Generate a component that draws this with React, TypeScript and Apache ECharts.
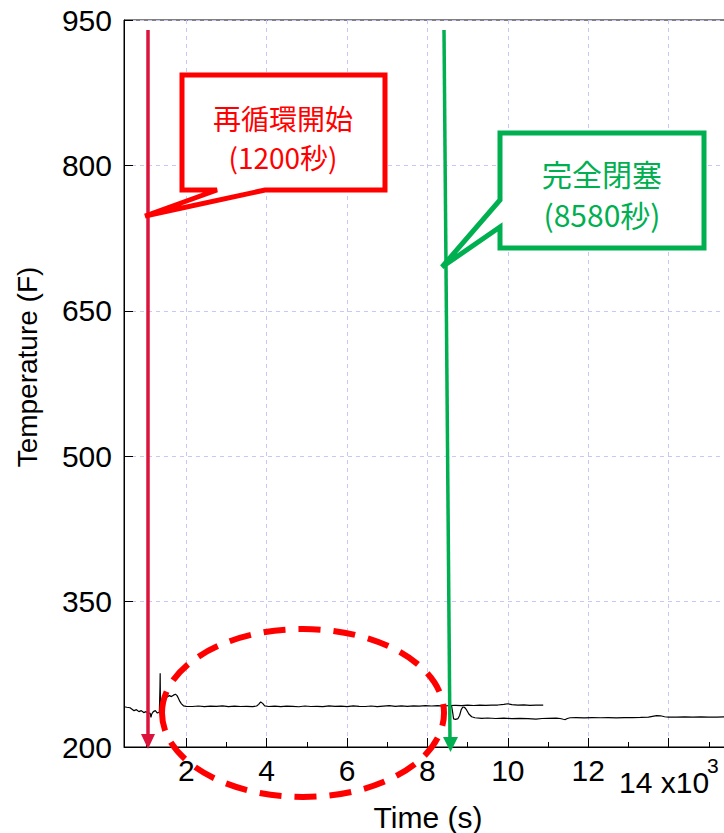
import React, { useEffect, useRef } from 'react';
import * as echarts from 'echarts';

const FONT = '"Liberation Sans", Arial, sans-serif';
const CJK = '"Noto Sans CJK JP", "Noto Sans", sans-serif';

// Axis ticks (seconds / °F)
const xMajorTicks = [2000, 4000, 6000, 8000, 10000, 12000, 14000];
const xLabelValues = [2000, 4000, 6000, 8000, 10000, 12000];
const xMinorTicks = [1000, 3000, 5000, 7000, 9000, 11000, 13000, 15000];
const yTicks = [200, 350, 500, 650, 800, 950];

// Series 1: temperature before / after recirculation start [time s, temp F]
const series1: [number, number][] = [
  [450, 241.5], [520, 241], [600, 240.5], [650, 239], [700, 237.5], [760, 238.5],
  [820, 236.5], [880, 237.5], [940, 235.5], [1000, 236.5], [1050, 234.5], [1100, 235],
  [1120, 230.5], [1140, 234], [1180, 236.5], [1230, 237.5], [1280, 235], [1330, 236],
  [1345, 262], [1350, 276], [1356, 246], [1362, 235], [1400, 234.5], [1430, 240],
  [1460, 246.5], [1490, 250], [1530, 252], [1580, 253], [1630, 252], [1680, 253.5],
  [1730, 254.5], [1770, 253], [1800, 250.5], [1840, 247], [1880, 244.5], [1930, 242.5],
  [2000, 242], [2150, 241.8], [2300, 242.3], [2450, 241.6], [2600, 242.1], [2750, 241.9],
  [2900, 242.4], [3050, 241.7], [3200, 242.2], [3350, 241.8], [3500, 242], [3650, 241.6],
  [3750, 242.3], [3800, 244], [3850, 246.5], [3900, 245], [3950, 242.5], [4050, 241.8],
  [4200, 242.1], [4350, 241.6], [4500, 242.2], [4650, 241.9], [4800, 241.5], [4950, 242.3],
  [5100, 241.8], [5250, 242], [5400, 241.6], [5550, 242.4], [5700, 241.9], [5850, 242.1],
  [6000, 241.7], [6150, 242.5], [6300, 242], [6450, 241.8], [6600, 242.3], [6750, 241.7],
  [6900, 242.2], [7050, 242.6], [7200, 242], [7350, 242.4], [7500, 241.9], [7650, 242.5],
  [7800, 242.1], [7950, 242.7], [8100, 242.3], [8250, 242.6], [8400, 242.2], [8550, 242.8],
  [8700, 243], [8850, 242.7], [9000, 243.1], [9150, 242.8], [9300, 243.2], [9450, 242.9],
  [9600, 243.1], [9750, 243.3], [9900, 244], [10000, 244.6], [10100, 243.8], [10250, 243.2],
  [10400, 243.4], [10550, 243], [10700, 243.2], [10880, 243.1],
];

// Series 2: temperature after full closure
const series2: [number, number][] = [
  [8600, 242.5], [8630, 235], [8650, 229], [8700, 228.5], [8760, 229.3], [8800, 232.5],
  [8840, 238.5], [8880, 241.3], [8920, 241], [8970, 238.5], [9030, 234], [9100, 231.2],
  [9180, 230.2], [9350, 229.6], [9500, 229.9], [9700, 229.4], [9900, 229.7], [10100, 229.3],
  [10300, 229.6], [10500, 229.2], [10700, 228.8], [10850, 229.4], [11000, 229.6], [11200, 229.8],
  [11300, 229.4], [11380, 228.6], [11430, 228.3], [11480, 229.4], [11550, 230.2], [11700, 230.3],
  [11900, 230.1], [12100, 230.4], [12300, 230.2], [12500, 230.3], [12700, 230.1], [12900, 230.4],
  [13100, 230.3], [13300, 230.5], [13500, 230.8], [13600, 231.6], [13700, 232.4], [13800, 232.2],
  [13900, 231.2], [14000, 230.9], [14200, 230.8], [14400, 231], [14600, 230.9], [14800, 231],
  [15000, 230.8], [15200, 230.9], [15400, 231], [15700, 230.9], [16000, 231],
];

const yTitle = 'Temperature (F)';
const xTitle = 'Time (s)';
const redLabel = ['再循環開始', '(1200秒)'];
const greenLabel = ['完全閉塞', '(8580秒)'];
const xAxisNote = '14 x10';
const xAxisExp = '3';

const RED = '#ff0000';
const CRIMSON = '#dc143c';
const GREEN = '#00b050';

export default function App() {
  const ref = useRef<HTMLDivElement>(null);
  useEffect(() => {
    document.body.style.margin = '0';
    document.body.style.overflow = 'hidden';
    const chart = echarts.init(ref.current!, null, { renderer: 'svg' });
    const gridLine = { show: true, lineStyle: { color: '#c8c8f5', type: [4, 4] as any, width: 1 } };
    const option: any = {
      animation: false,
      backgroundColor: '#fff',
      grid: {
        left: 124, top: 20, right: -25, bottom: 86, show: true, borderColor: '#000', borderWidth: 1,
        backgroundColor: 'transparent', containLabel: false, outerBoundsMode: 'none',
      },
      xAxis: [
        {
          type: 'value', min: 450, max: 16000,
          axisLine: { show: true, lineStyle: { color: '#000', width: 1 } },
          axisTick: { show: true, inside: true, length: 9, customValues: xMajorTicks, lineStyle: { color: '#000' } },
          axisLabel: { customValues: xLabelValues, formatter: (v: number) => String(v / 1000), fontSize: 30, color: '#000', margin: 8, fontFamily: FONT },
          splitLine: gridLine,
        },
        {
          type: 'value', min: 450, max: 16000, position: 'bottom',
          axisLine: { show: false },
          axisTick: { show: true, inside: true, length: 5, customValues: xMinorTicks, lineStyle: { color: '#000' } },
          axisLabel: { show: false },
          splitLine: { show: false },
        },
      ],
      yAxis: {
        type: 'value', min: 200, max: 950,
        axisLine: { show: true, lineStyle: { color: '#000', width: 1 } },
        axisTick: { show: true, inside: true, length: 9, customValues: yTicks, lineStyle: { color: '#000' } },
        axisLabel: { customValues: yTicks, fontSize: 30, color: '#000', margin: 12, fontFamily: FONT },
        splitLine: gridLine,
      },
      series: [
        { type: 'line', data: series1, showSymbol: false, xAxisIndex: 0, lineStyle: { color: '#000', width: 1.2 }, z: 3 },
        { type: 'line', data: series2, showSymbol: false, xAxisIndex: 0, lineStyle: { color: '#000', width: 1.2 }, z: 3 },
      ],
      graphic: [
        // axis titles
        { type: 'text', z: 50, x: 27, y: 367, rotation: Math.PI / 2, style: { text: yTitle, fill: '#000', fontSize: 28, fontFamily: FONT, align: 'center', verticalAlign: 'middle' } },
        { type: 'text', z: 50, x: 428, y: 817, style: { text: xTitle, fill: '#000', fontSize: 30, fontFamily: FONT, align: 'center', verticalAlign: 'middle' } },
        // red arrow
        { type: 'line', z: 100, shape: { x1: 148, y1: 30, x2: 148, y2: 736 }, style: { stroke: CRIMSON, lineWidth: 3.5 } },
        { type: 'polygon', z: 100, shape: { points: [[141, 734], [155, 734], [148, 749]] }, style: { fill: CRIMSON } },
        // green arrow
        { type: 'line', z: 100, shape: { x1: 444, y1: 30, x2: 450, y2: 740 }, style: { stroke: GREEN, lineWidth: 3.5 } },
        { type: 'polygon', z: 100, shape: { points: [[443, 737], [458, 737], [450.5, 752]] }, style: { fill: GREEN } },
        // red callout
        { type: 'polygon', z: 101, shape: { points: [[182, 75], [385, 75], [385, 190], [265, 190], [145, 216], [217, 190], [182, 190]] }, style: { fill: '#fff', stroke: RED, lineWidth: 5, lineJoin: 'miter' } },
        { type: 'text', z: 102, x: 283, y: 118, style: { text: redLabel[0], fill: RED, fontSize: 28, fontFamily: CJK, align: 'center', verticalAlign: 'middle' } },
        { type: 'text', z: 102, x: 283, y: 157, style: { text: redLabel[1], fill: RED, fontSize: 28, fontFamily: CJK, align: 'center', verticalAlign: 'middle' } },
        // green callout
        { type: 'polygon', z: 101, shape: { points: [[500, 133], [704, 133], [704, 248], [500, 248], [500, 227], [442, 267], [500, 200]] }, style: { fill: '#fff', stroke: GREEN, lineWidth: 5, lineJoin: 'miter' } },
        { type: 'text', z: 102, x: 602, y: 173, style: { text: greenLabel[0], fill: GREEN, fontSize: 30, fontFamily: CJK, align: 'center', verticalAlign: 'middle' } },
        { type: 'text', z: 102, x: 602, y: 214, style: { text: greenLabel[1], fill: GREEN, fontSize: 30, fontFamily: CJK, align: 'center', verticalAlign: 'middle' } },
        // dashed ellipse
        { type: 'ellipse', z: 100, shape: { cx: 303, cy: 713, rx: 141, ry: 84 }, style: { fill: 'none', stroke: RED, lineWidth: 6, lineDash: [22, 13] } },
        // x10^3 label
        { type: 'text', z: 50, x: 619, y: 782.5, style: { text: xAxisNote, fill: '#000', fontSize: 30, fontFamily: FONT, align: 'left', verticalAlign: 'middle' } },
        { type: 'text', z: 50, x: 707, y: 765, style: { text: xAxisExp, fill: '#000', fontSize: 21, fontFamily: FONT, align: 'left', verticalAlign: 'middle' } },
      ],
    };
    chart.setOption(option);
    return () => chart.dispose();
  }, []);
  return <div ref={ref} style={{ width: 724, height: 833 }} />;
}
